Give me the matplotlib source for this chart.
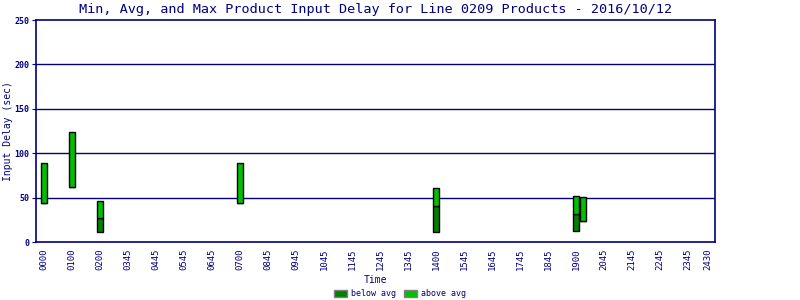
import numpy as np
import matplotlib.pyplot as plt
from matplotlib.patches import Patch

# hours of day for each product slot
hours = [0, 1, 2, 7, 14, 19, 19.25]
min_delay = [44, 62, 11, 44, 11, 12, 24]
avg_delay = [44, 62, 27, 44, 40, 31, 24]
max_delay = [89, 124, 46, 89, 61, 52, 51]

tick_pos = list(range(24)) + [23.72]
tick_labels = ['0000', '0100', '0200', '0345', '0445', '0545', '0645', '0700',
               '0845', '0945', '1045', '1145', '1245', '1345', '1400', '1545',
               '1645', '1745', '1845', '1900', '2045', '2145', '2245', '2345',
               '2430']

navy = '#000080'
dark_green = '#008000'
light_green = '#00c000'
mono = 'DejaVu Sans Mono'

fig = plt.figure(figsize=(8, 3), dpi=100)
ax = fig.add_axes([36 / 800, 58 / 300, 679 / 800, 222 / 300])

lo = np.array(min_delay)
mid = np.array(avg_delay)
hi = np.array(max_delay)
w = 0.21
ax.bar(hours, mid - lo, bottom=lo, width=w, color=dark_green,
       edgecolor='black', linewidth=1, zorder=3)
ax.bar(hours, hi - mid, bottom=mid, width=w, color=light_green,
       edgecolor='black', linewidth=1, zorder=3)

for y in [50, 100, 150, 200]:
    ax.axhline(y, color=navy, linewidth=1, zorder=1)

ax.set_ylim(0, 250)
ax.set_xlim(-0.286, 23.96)
ax.set_yticks([0, 50, 100, 150, 200, 250])
ax.set_xticks(tick_pos)
ax.set_xticklabels(tick_labels, rotation=90, fontsize=6.5, family=mono, color=navy)
for lab in ax.get_yticklabels():
    lab.set_fontsize(6)
    lab.set_family(mono)
    lab.set_color(navy)
    lab.set_fontweight('bold')
ax.tick_params(axis='y', length=3, color=navy, pad=2)
ax.tick_params(axis='x', length=0, pad=5)

for s in ax.spines.values():
    s.set_color(navy)
    s.set_linewidth(1.2)

ax.set_title('Min, Avg, and Max Product Input Delay for Line 0209 Products - 2016/10/12',
             fontsize=9.7, family=mono, color=navy, pad=5)
ax.set_ylabel('Input Delay (sec)', fontsize=7, family=mono, color=navy, labelpad=1)
ax.set_xlabel('Time', fontsize=7, family=mono, color=navy, labelpad=3)

handles = [Patch(facecolor=dark_green, edgecolor='gray', label='below avg'),
           Patch(facecolor=light_green, edgecolor='gray', label='above avg')]
fig.legend(handles=handles, loc='lower center', bbox_to_anchor=(0.5, -0.02),
           ncol=2, frameon=False, prop={'family': mono, 'size': 6},
           handlelength=1.6, handleheight=1.0, columnspacing=1.0, handletextpad=0.4,
           labelcolor=navy)

fig.savefig('out.png', dpi=100)
